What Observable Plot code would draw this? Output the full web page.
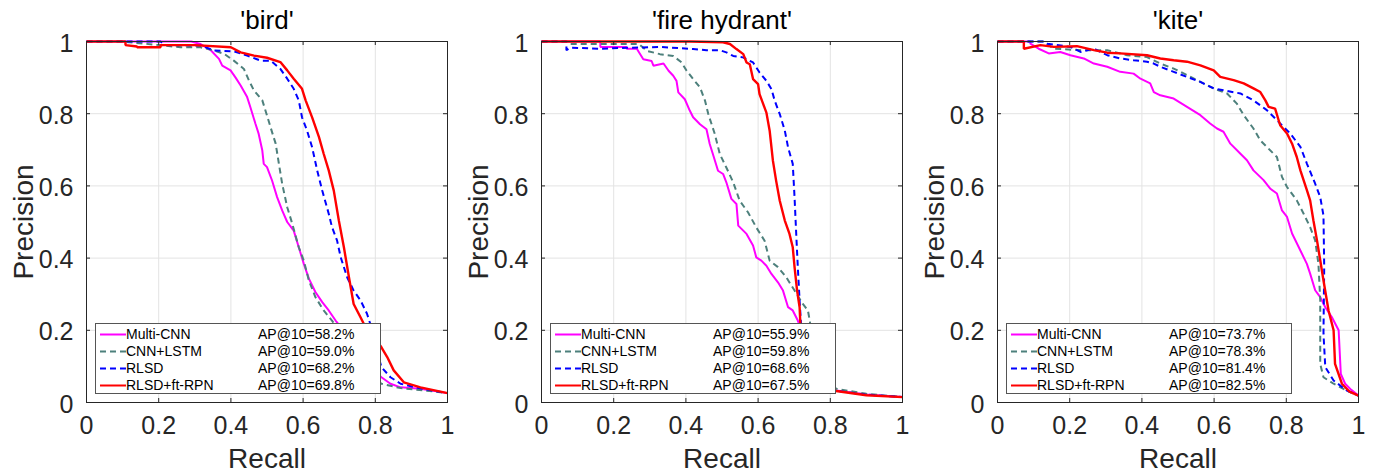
<!DOCTYPE html>
<html>
<head>
<meta charset="utf-8">
<script src="https://cdn.jsdelivr.net/npm/d3@7"></script>
<script src="https://cdn.jsdelivr.net/npm/@observablehq/plot@0.6"></script>
<style>
  html, body { margin: 0; padding: 0; background: #fff; }
  #wrap { position: relative; width: 1382px; height: 476px; font-family: "Liberation Sans", Arial, sans-serif; }
  .panel { position: absolute; top: 0; width: 460px; height: 476px; }
  .legend { position: absolute; top: 323px; width: 284px; height: 69px; border: 1px solid #555; background: #fff; font-size: 14px; color: #000; }
  .row { position: absolute; left: 0; height: 17px; line-height: 17px; width: 100%; white-space: nowrap; }
  .row svg { position: absolute; left: 4px; top: 0; }
  .row .nm { position: absolute; left: 30px; }
  .row .ap { position: absolute; left: 162px; }
</style>
</head>
<body>
<div id="wrap"></div>
<script>
// ---------- shared definitions ----------
const seriesNames = ["Multi-CNN", "CNN+LSTM", "RLSD", "RLSD+ft-RPN"];
const seriesColors = ["#ff00ff", "#4d807c", "#0000ff", "#ff0000"];
const seriesDash = [null, "6,4", "6,4", null];
const seriesWidth = [2, 2, 2, 2.4];
const panelTitles = ["'bird'", "'fire hydrant'", "'kite'"];
const tickValues = [0, 0.2, 0.4, 0.6, 0.8, 1];
const tickLabels = ["0", "0.2", "0.4", "0.6", "0.8", "1"];

// ---------- AP values ----------
const birdAP = ["58.2", "59.0", "68.2", "69.8"];
const hydrantAP = ["55.9", "59.8", "68.6", "67.5"];
const kiteAP = ["73.7", "78.3", "81.4", "82.5"];

// ---------- 'bird' curves [recall, precision] ----------
const birdMultiCNN = [[0,1],[0.29,1],[0.316,0.993],[0.343,0.977],[0.367,0.952],[0.376,0.933],[0.399,0.92],[0.413,0.90],[0.427,0.878],[0.445,0.846],[0.454,0.818],[0.468,0.772],[0.477,0.744],[0.487,0.698],[0.491,0.661],[0.5,0.652],[0.514,0.615],[0.528,0.569],[0.542,0.532],[0.556,0.50],[0.574,0.476],[0.588,0.43],[0.602,0.384],[0.616,0.343],[0.634,0.306],[0.653,0.278],[0.671,0.255],[0.69,0.227],[0.72,0.19],[0.76,0.13],[0.80,0.085],[0.817,0.07],[0.842,0.052],[0.87,0.042],[0.925,0.038],[1,0.026]];
const birdCNNLSTM = [[0,1],[0.1,1],[0.2,0.99],[0.26,0.984],[0.316,0.984],[0.353,0.975],[0.381,0.966],[0.408,0.947],[0.436,0.924],[0.45,0.892],[0.464,0.864],[0.487,0.837],[0.5,0.795],[0.514,0.749],[0.524,0.717],[0.533,0.661],[0.542,0.606],[0.556,0.541],[0.57,0.495],[0.588,0.43],[0.602,0.393],[0.616,0.338],[0.634,0.292],[0.657,0.255],[0.68,0.227],[0.72,0.17],[0.77,0.09],[0.817,0.052],[0.87,0.04],[0.93,0.034],[1,0.026]];
const birdRLSD = [[0,1],[0.205,1],[0.22,0.99],[0.316,0.989],[0.353,0.975],[0.408,0.973],[0.445,0.961],[0.482,0.947],[0.51,0.947],[0.537,0.924],[0.556,0.897],[0.574,0.869],[0.588,0.837],[0.597,0.79],[0.611,0.753],[0.625,0.707],[0.639,0.643],[0.653,0.587],[0.671,0.523],[0.68,0.486],[0.694,0.449],[0.704,0.403],[0.722,0.347],[0.74,0.31],[0.759,0.283],[0.777,0.246],[0.786,0.218],[0.80,0.16],[0.817,0.098],[0.842,0.07],[0.87,0.052],[0.92,0.04],[1,0.026]];
const birdRLSDft = [[0,1],[0.108,1],[0.108,0.99],[0.14,0.986],[0.14,0.984],[0.205,0.984],[0.205,0.99],[0.30,0.99],[0.40,0.984],[0.427,0.97],[0.464,0.961],[0.5,0.955],[0.537,0.943],[0.556,0.92],[0.574,0.897],[0.597,0.869],[0.607,0.837],[0.625,0.79],[0.644,0.735],[0.657,0.689],[0.671,0.643],[0.685,0.587],[0.699,0.504],[0.713,0.43],[0.727,0.347],[0.74,0.273],[0.759,0.236],[0.768,0.218],[0.79,0.19],[0.817,0.153],[0.833,0.126],[0.851,0.089],[0.879,0.056],[0.925,0.042],[1,0.026]];

// ---------- 'fire hydrant' curves ----------
const hydrantMultiCNN = [[0,1],[0.163,1],[0.163,0.985],[0.236,0.985],[0.236,0.98],[0.264,0.98],[0.282,0.951],[0.305,0.946],[0.31,0.933],[0.338,0.939],[0.352,0.919],[0.365,0.905],[0.374,0.891],[0.379,0.859],[0.397,0.84],[0.411,0.808],[0.42,0.79],[0.439,0.771],[0.457,0.757],[0.466,0.716],[0.476,0.684],[0.489,0.642],[0.503,0.633],[0.512,0.61],[0.526,0.564],[0.54,0.55],[0.545,0.49],[0.568,0.467],[0.586,0.435],[0.595,0.402],[0.609,0.393],[0.623,0.379],[0.637,0.356],[0.655,0.333],[0.669,0.31],[0.683,0.264],[0.696,0.255],[0.71,0.227],[0.72,0.20],[0.74,0.12],[0.77,0.06],[0.816,0.033],[0.9,0.022],[1,0.015]];
const hydrantCNNLSTM = [[0,1],[0.07,1],[0.08,0.993],[0.27,0.993],[0.292,0.974],[0.328,0.965],[0.365,0.96],[0.388,0.942],[0.402,0.919],[0.42,0.896],[0.439,0.873],[0.453,0.836],[0.462,0.799],[0.48,0.744],[0.494,0.688],[0.512,0.651],[0.531,0.61],[0.549,0.559],[0.572,0.527],[0.595,0.485],[0.618,0.448],[0.632,0.393],[0.655,0.375],[0.678,0.347],[0.701,0.31],[0.724,0.273],[0.738,0.255],[0.743,0.227],[0.75,0.18],[0.77,0.09],[0.816,0.038],[0.9,0.024],[1,0.015]];
const hydrantRLSD = [[0,1],[0.069,1],[0.069,0.976],[0.08,0.983],[0.16,0.98],[0.25,0.983],[0.33,0.985],[0.42,0.979],[0.457,0.976],[0.494,0.976],[0.512,0.97],[0.531,0.96],[0.558,0.956],[0.586,0.942],[0.604,0.914],[0.623,0.891],[0.637,0.868],[0.646,0.836],[0.66,0.799],[0.674,0.753],[0.683,0.707],[0.696,0.661],[0.701,0.568],[0.706,0.458],[0.71,0.375],[0.715,0.282],[0.72,0.2],[0.73,0.12],[0.76,0.06],[0.816,0.032],[0.9,0.022],[1,0.015]];
const hydrantRLSDft = [[0,1],[0.411,1],[0.503,0.998],[0.522,0.993],[0.54,0.979],[0.559,0.965],[0.568,0.942],[0.577,0.937],[0.586,0.896],[0.6,0.882],[0.604,0.854],[0.614,0.827],[0.623,0.803],[0.632,0.753],[0.641,0.67],[0.65,0.614],[0.66,0.559],[0.674,0.504],[0.687,0.467],[0.696,0.43],[0.701,0.375],[0.708,0.31],[0.715,0.264],[0.717,0.218],[0.72,0.17],[0.73,0.1],[0.76,0.055],[0.816,0.032],[0.9,0.02],[1,0.015]];

// ---------- 'kite' curves ----------
const kiteMultiCNN = [[0,1],[0.091,1],[0.091,0.994],[0.114,0.98],[0.142,0.967],[0.174,0.971],[0.202,0.962],[0.239,0.953],[0.267,0.939],[0.304,0.93],[0.34,0.916],[0.377,0.911],[0.396,0.897],[0.423,0.884],[0.433,0.86],[0.451,0.851],[0.488,0.842],[0.525,0.819],[0.562,0.796],[0.589,0.773],[0.608,0.759],[0.626,0.75],[0.645,0.717],[0.673,0.689],[0.691,0.671],[0.709,0.643],[0.737,0.616],[0.756,0.592],[0.774,0.579],[0.788,0.532],[0.802,0.514],[0.816,0.468],[0.839,0.421],[0.857,0.384],[0.866,0.357],[0.88,0.311],[0.894,0.292],[0.908,0.264],[0.926,0.237],[0.945,0.2],[0.951,0.079],[0.963,0.052],[0.98,0.035],[1,0.019]];
const kiteCNNLSTM = [[0,1],[0.128,1],[0.156,0.98],[0.23,0.976],[0.304,0.976],[0.359,0.962],[0.414,0.957],[0.451,0.939],[0.488,0.925],[0.525,0.907],[0.562,0.888],[0.599,0.87],[0.636,0.856],[0.663,0.828],[0.682,0.796],[0.709,0.759],[0.728,0.726],[0.746,0.708],[0.774,0.68],[0.788,0.625],[0.802,0.597],[0.829,0.56],[0.848,0.523],[0.866,0.486],[0.88,0.449],[0.889,0.384],[0.894,0.283],[0.894,0.107],[0.903,0.07],[0.931,0.052],[0.968,0.033],[1,0.019]];
const kiteRLSD = [[0,1],[0.128,1],[0.138,0.994],[0.202,0.985],[0.23,0.971],[0.267,0.98],[0.304,0.962],[0.34,0.953],[0.377,0.948],[0.414,0.944],[0.433,0.939],[0.451,0.93],[0.488,0.916],[0.525,0.902],[0.562,0.888],[0.599,0.87],[0.636,0.863],[0.673,0.856],[0.709,0.837],[0.746,0.81],[0.783,0.773],[0.811,0.745],[0.839,0.708],[0.857,0.662],[0.88,0.606],[0.894,0.569],[0.903,0.518],[0.905,0.375],[0.903,0.19],[0.908,0.098],[0.931,0.061],[0.968,0.033],[1,0.019]];
const kiteRLSDft = [[0,1],[0.073,1],[0.073,0.98],[0.119,0.99],[0.156,0.985],[0.22,0.987],[0.267,0.976],[0.304,0.969],[0.34,0.967],[0.414,0.962],[0.451,0.953],[0.488,0.948],[0.525,0.944],[0.562,0.934],[0.599,0.92],[0.617,0.902],[0.654,0.893],[0.682,0.884],[0.709,0.87],[0.728,0.86],[0.742,0.837],[0.751,0.819],[0.769,0.814],[0.783,0.768],[0.802,0.745],[0.816,0.717],[0.829,0.68],[0.839,0.643],[0.857,0.588],[0.866,0.56],[0.875,0.505],[0.885,0.449],[0.894,0.394],[0.903,0.338],[0.917,0.255],[0.931,0.2],[0.935,0.107],[0.954,0.052],[0.975,0.03],[1,0.019]];

// ---------- assemble panels ----------
const panels = [
  {title: panelTitles[0], ap: birdAP, curves: [birdMultiCNN, birdCNNLSTM, birdRLSD, birdRLSDft], left: 0},
  {title: panelTitles[1], ap: hydrantAP, curves: [hydrantMultiCNN, hydrantCNNLSTM, hydrantRLSD, hydrantRLSDft], left: 455},
  {title: panelTitles[2], ap: kiteAP, curves: [kiteMultiCNN, kiteCNNLSTM, kiteRLSD, kiteRLSDft], left: 911}
];

const W = 460, H = 476, ML = 86, MR = 13, MT = 41, MB = 74;
const PW = W - ML - MR, PH = H - MT - MB;
const axisColor = "#262626";
const fmt = d => tickLabels[tickValues.indexOf(d)];
const wrap = document.getElementById("wrap");

panels.forEach(p => {
  const lines = p.curves.map((c, i) => Plot.line(c, {
    x: d => d[0], y: d => d[1],
    stroke: seriesColors[i], strokeWidth: seriesWidth[i],
    strokeDasharray: seriesDash[i] || undefined,
    strokeLinejoin: "miter", strokeLinecap: "butt"
  }));
  const chart = Plot.plot({
    width: W, height: H,
    marginLeft: ML, marginRight: MR, marginTop: MT, marginBottom: MB,
    x: {domain: [0, 1]},
    y: {domain: [0, 1]},
    style: {fontFamily: "'Liberation Sans', Arial, sans-serif", color: axisColor, background: "transparent", overflow: "visible"},
    marks: [
      Plot.gridX(tickValues, {stroke: "#e3e3e3", strokeOpacity: 1}),
      Plot.gridY(tickValues, {stroke: "#e3e3e3", strokeOpacity: 1}),
      ...lines,
      Plot.frame({stroke: axisColor, strokeWidth: 1}),
      Plot.tickX(tickValues, {x: d => d, insetTop: PH - 4, stroke: axisColor}),
      Plot.tickX(tickValues, {x: d => d, insetBottom: PH - 4, stroke: axisColor}),
      Plot.tickY(tickValues, {y: d => d, insetRight: PW - 4, stroke: axisColor}),
      Plot.tickY(tickValues, {y: d => d, insetLeft: PW - 4, stroke: axisColor}),
      Plot.axisX(tickValues, {tickSize: 0, tickPadding: 14, tickFormat: fmt, fontSize: 25, label: null, fill: axisColor}),
      Plot.axisY(tickValues, {tickSize: 0, tickPadding: 13, tickFormat: fmt, fontSize: 25, label: null, fill: axisColor, dy: 2}),
      Plot.text([p.title], {text: d => d, frameAnchor: "top", dy: -13, lineAnchor: "bottom", fontSize: 26, fill: "#000"}),
      Plot.text(["Recall"], {text: d => d, frameAnchor: "bottom", dy: 65, lineAnchor: "bottom", fontSize: 28, fill: axisColor}),
      Plot.text(["Precision"], {text: d => d, frameAnchor: "left", dx: -54, rotate: -90, lineAnchor: "bottom", textAnchor: "middle", fontSize: 28, fill: axisColor})
    ]
  });
  const div = document.createElement("div");
  div.className = "panel";
  div.style.left = p.left + "px";
  div.appendChild(chart);

  // legend
  const lg = document.createElement("div");
  lg.className = "legend";
  lg.style.left = (ML + 9) + "px";
  seriesNames.forEach((name, i) => {
    const row = document.createElement("div");
    row.className = "row";
    row.style.top = (2 + i * 17) + "px";
    const dash = seriesDash[i] ? ` stroke-dasharray="${seriesDash[i]}"` : "";
    row.innerHTML = `<svg width="26" height="17"><line x1="0" x2="26" y1="8.5" y2="8.5" stroke="${seriesColors[i]}" stroke-width="2"${dash}/></svg>` +
      `<span class="nm">${name}</span><span class="ap">AP@10=${p.ap[i]}%</span>`;
    lg.appendChild(row);
  });
  div.appendChild(lg);
  wrap.appendChild(div);
});
</script>
</body>
</html>
